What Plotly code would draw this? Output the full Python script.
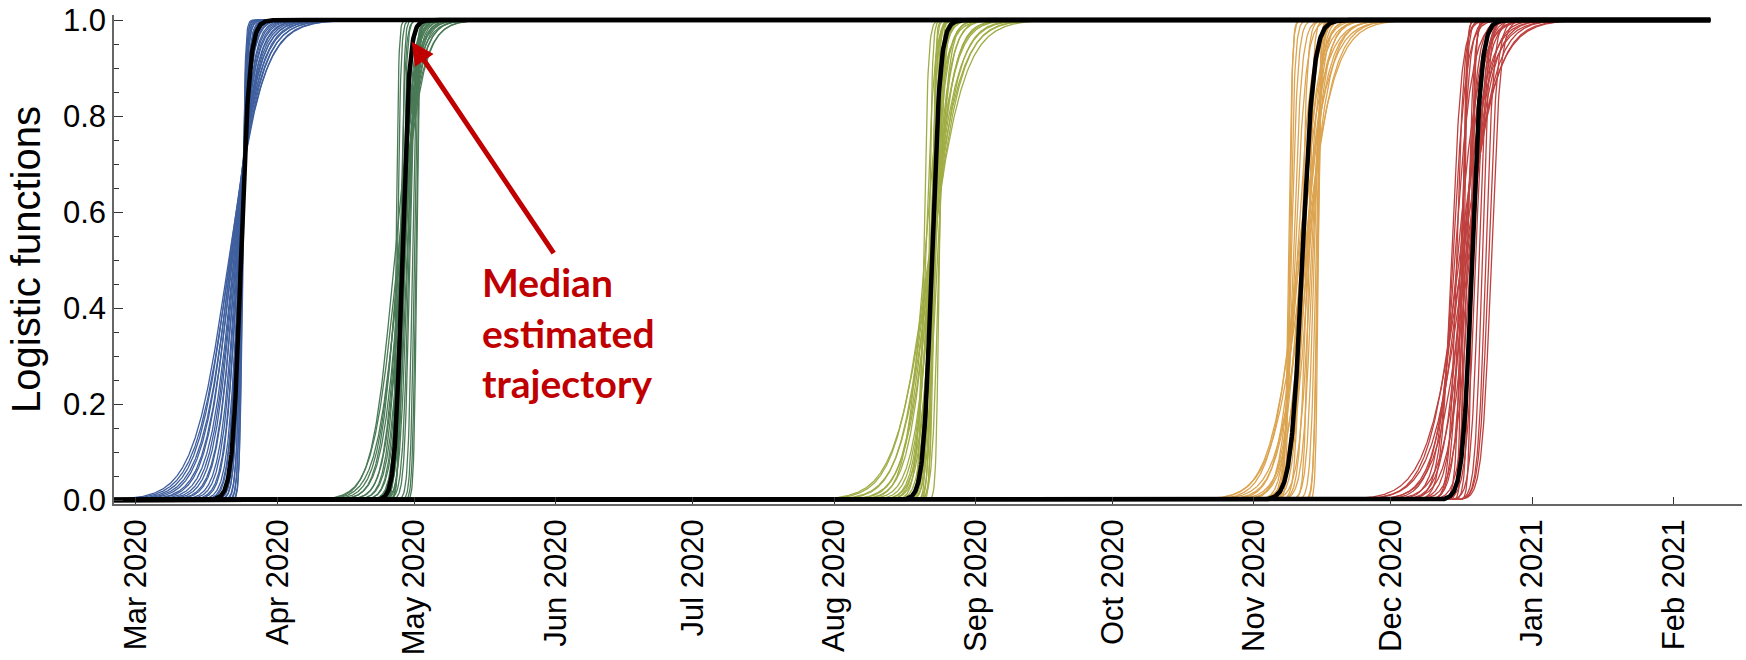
import numpy as np
import plotly.graph_objects as go

# Day offsets are counted from this date
ORIGIN = "2020-03-01"
T_START, T_END = -10.0, 345.0

MONTH_TICKS = ["Mar 2020", "Apr 2020", "May 2020", "Jun 2020", "Jul 2020", "Aug 2020",
               "Sep 2020", "Oct 2020", "Nov 2020", "Dec 2020", "Jan 2021", "Feb 2021"]

# Sampled logistic curves: growth rate (per day) and midpoint (days after ORIGIN)
blue_rate = [0.26, 0.27, 0.29, 0.30, 0.32, 0.34, 0.36, 0.38, 0.41, 0.44,
             0.47, 0.50, 0.55, 0.60, 0.66, 0.72, 0.80, 0.88, 0.96, 1.05,
             1.15, 1.30, 1.45, 1.60, 1.80, 2.00, 2.30, 2.60, 3.00, 3.50]
blue_mid = [20.3, 20.6, 20.5, 20.9, 20.8, 21.1, 21.0, 21.4, 21.5, 21.6,
            21.9, 21.8, 22.1, 22.2, 22.4, 22.3, 22.6, 22.7, 22.6, 22.9,
            22.8, 23.0, 23.1, 22.9, 23.2, 23.1, 23.3, 23.2, 23.4, 23.3]

green_rate = [0.38, 0.40, 0.42, 0.45, 0.48, 0.52, 0.56, 0.60, 0.65, 0.70,
              0.76, 0.82, 0.90, 0.98, 1.06, 1.15, 1.25, 1.35, 1.50, 1.65,
              1.80, 2.00, 2.20, 2.40, 2.60, 2.80, 3.00, 3.20, 3.50, 3.80]
green_mid = [57.3, 57.8, 56.6, 57.6, 58.1, 57.4, 58.3, 57.9, 58.6, 58.0,
             58.8, 58.3, 59.0, 58.5, 59.3, 58.2, 59.5, 58.7, 59.8, 58.9,
             60.0, 57.9, 60.6, 58.4, 61.0, 57.3, 61.3, 58.1, 61.5, 57.0]

olive_rate = [0.26, 0.28, 0.30, 0.32, 0.35, 0.38, 0.41, 0.45, 0.49, 0.53,
              0.58, 0.63, 0.69, 0.75, 0.82, 0.90, 0.98, 1.08, 1.18, 1.30,
              1.42, 1.56, 1.72, 1.90, 2.10, 2.35, 2.60, 2.90, 3.20, 3.60]
olive_mid = [174.0, 173.6, 174.3, 173.8, 174.5, 173.9, 174.2, 174.7, 172.8, 174.4,
             174.9, 174.1, 174.6, 173.8, 175.6, 174.3, 174.8, 173.0, 175.2, 174.5,
             174.0, 175.9, 174.2, 174.8, 172.6, 175.0, 174.4, 173.8, 176.0, 174.6]

orange_rate = [0.29, 0.31, 0.33, 0.35, 0.38, 0.41, 0.44, 0.48, 0.52, 0.56,
               0.61, 0.66, 0.72, 0.78, 0.85, 0.92, 1.00, 1.10, 1.20, 1.32,
               1.45, 1.60, 1.75, 1.95, 2.15, 2.40, 2.70, 3.00, 3.40, 3.80]
orange_mid = [255.8, 255.0, 256.4, 254.6, 255.9, 256.8, 254.9, 256.2, 255.3, 257.1,
              254.4, 256.5, 255.6, 257.5, 254.0, 256.0, 257.8, 253.6, 256.7, 258.2,
              253.2, 255.4, 258.6, 252.9, 257.0, 259.0, 252.6, 258.8, 252.8, 259.1]

red_rate = [0.26, 0.28, 0.30, 0.32, 0.35, 0.38, 0.41, 0.45, 0.49, 0.53,
            0.58, 0.63, 0.69, 0.75, 0.82, 0.90, 0.98, 1.00, 1.05, 1.06,
            1.15, 1.20, 1.25, 1.35, 1.45, 1.75, 2.10, 2.60, 2.90, 3.30]
red_mid = [290.6, 291.2, 290.0, 291.6, 290.4, 291.9, 289.6, 292.2, 290.8, 289.0,
           292.5, 291.0, 288.6, 293.0, 291.4, 288.3, 293.6, 297.0, 296.4, 290.2,
           294.3, 295.8, 289.4, 295.0, 291.7, 290.5, 292.4, 290.7, 292.8, 291.0]

# Median estimated trajectory of each wave
median_rate = [1.08, 1.30, 1.10, 0.82, 1.00]
median_mid = [23.0, 58.3, 174.4, 255.6, 292.8]

groups = [
    ("#3f5f9e", blue_rate, blue_mid),
    ("#4a7a56", green_rate, green_mid),
    ("#a0ad45", olive_rate, olive_mid),
    ("#dca450", orange_rate, orange_mid),
    ("#be403e", red_rate, red_mid),
]

DAY_MS = 86400000.0
origin_ms = float(np.datetime64(ORIGIN, "ms").astype(np.int64))


def day_grid(center):
    fine = np.arange(center - 32.0, center + 32.0, 0.1)
    fine = fine[(fine > T_START) & (fine < T_END)]
    return np.concatenate([[T_START], fine, [T_END]])


def logistic(t, rate, mid):
    return 1.0 / (1.0 + np.exp(-rate * (t - mid)))


def to_ms(t):
    return origin_ms + t * DAY_MS


fig = go.Figure()

for (color, rates, mids), center in zip(groups, median_mid):
    t = day_grid(center)
    for k, m in zip(rates, mids):
        fig.add_trace(go.Scatter(
            x=to_ms(t), y=logistic(t, k, m), mode="lines",
            line=dict(color=color, width=1.3),
            hoverinfo="skip", showlegend=False,
        ))

for k, m in zip(median_rate, median_mid):
    t = day_grid(m)
    fig.add_trace(go.Scatter(
        x=to_ms(t), y=logistic(t, k, m), mode="lines",
        line=dict(color="black", width=4.5),
        hoverinfo="skip", showlegend=False,
    ))

month_vals = [str(d) + "-01" for d in np.arange(np.datetime64("2020-03"), np.datetime64("2021-03"),
                                                np.timedelta64(1, "M"))]

axis_font = dict(family="Liberation Sans, Arial, sans-serif", size=31, color="black")

fig.update_layout(
    width=1746, height=660,
    margin=dict(l=114, r=4, t=15, b=156, autoexpand=False),
    paper_bgcolor="white", plot_bgcolor="white",
    xaxis=dict(
        type="date", automargin=False,
        range=[to_ms(-4.82), to_ms(351.96)],
        tickvals=month_vals, ticktext=MONTH_TICKS,
        tickangle=-90, tickfont=axis_font,
        ticks="inside", ticklen=7, tickwidth=1.2, tickcolor="#333",
        showline=True, linecolor="#666", linewidth=1.6,
        showgrid=False, zeroline=False,
        ticklabelstandoff=1,
    ),
    yaxis=dict(
        automargin=False,
        range=[-4.0 / 480.0, 1.0 + 5.0 / 480.0],
        tickvals=[0, 0.2, 0.4, 0.6, 0.8, 1.0], tickformat=".1f",
        tickfont=axis_font,
        ticks="inside", ticklen=9, tickwidth=1.2, tickcolor="#333",
        minor=dict(dtick=0.05, ticks="inside", ticklen=5, tickwidth=1, tickcolor="#333"),
        showline=True, linecolor="#666", linewidth=1.6,
        showgrid=False, zeroline=False,
        title=dict(text="Logistic functions",
                   font=dict(family="Liberation Sans, Arial, sans-serif", size=40, color="black"),
                   standoff=10),
    ),
    annotations=[
        dict(
            x=to_ms((480 - 136) / 4.563), y=(500 - 332) / 480.0,
            xref="x", yref="y", xanchor="left", yanchor="middle", align="left",
            text="<b>Median<br>estimated<br>trajectory</b>",
            font=dict(family="Lato, sans-serif", size=39, color="#C00000"),
            showarrow=False,
        ),
        dict(
            x=to_ms((411.7 - 136) / 4.563), y=(500 - 41.7) / 480.0,
            xref="x", yref="y", text="",
            showarrow=True, ax=143, ay=213,
            arrowcolor="#C00000", arrowwidth=5, arrowhead=2, arrowsize=0.9,
            standoff=0,
        ),
    ],
)

fig.write_html("out.html")
